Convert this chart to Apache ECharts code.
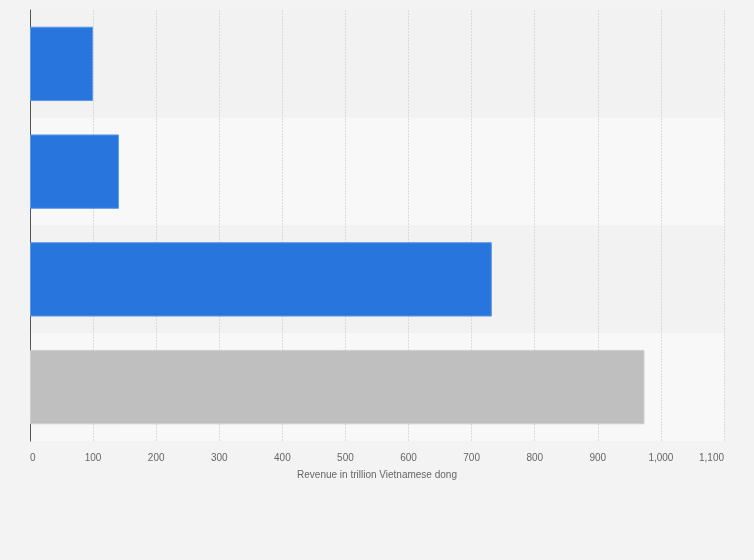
<!DOCTYPE html>
<html lang="en">
<head>
	<meta charset="UTF-8">
	<title>Revenue in trillion Vietnamese dong</title>
	<script src="https://cdn.jsdelivr.net/npm/echarts@6/dist/echarts.min.js"></script>
	<style type="text/css">
		html, body { margin: 0; padding: 0; background: #f3f3f3; }
		#main { width: 754px; height: 560px; }
	</style>
</head>
<body>
	<div id="main"></div>
	<script type="text/javascript">
		// data (category labels are not shown in it)
		var categories = ['Bar 1', 'Bar 2', 'Bar 3', 'Bar 4'];
		var revenue = [100, 141, 732, 974];
		var greyIndex = 3;

		var xMin = 0;
		var xMax = 1100;
		var xStep = 100;

		var seriesData = revenue.map(function (v, i) {
			var grey = i === greyIndex;
			return {
				value: v,
				itemStyle: {
					color: grey ? '#bfbfbf' : '#2876dd',
					borderColor: grey ? '#cfcfcf' : '#5c98e6',
					borderWidth: 1
				}
			};
		});

		var chart = echarts.init(document.getElementById('main'));

		var option = {
			backgroundColor: '#f3f3f3',
			animation: false,
			grid: {
				left: 30,
				right: 30,
				top: 10,
				bottom: 119
			},
			xAxis: {
				type: 'value',
				min: xMin,
				max: xMax,
				interval: xStep,
				name: 'Revenue in trillion Vietnamese dong',
				nameLocation: 'middle',
				nameGap: 29,
				nameTextStyle: { color: '#666', fontSize: 10, fontFamily: 'Liberation Sans, Arial, sans-serif' },
				axisLine: { show: false },
				axisTick: { show: false },
				axisLabel: {
					color: '#666',
					fontSize: 10,
					margin: 12,
					fontFamily: 'Liberation Sans, Arial, sans-serif',
					alignMinLabel: 'left',
					alignMaxLabel: 'right',
					formatter: function (v) {
						return v.toLocaleString('en-US');
					}
				},
				splitLine: {
					show: true,
					lineStyle: { color: '#dadada', type: [2, 1], width: 1 }
				}
			},
			yAxis: {
				type: 'category',
				data: categories,
				inverse: true,
				axisLine: { show: true, lineStyle: { color: '#555', width: 1 } },
				axisTick: { show: false },
				axisLabel: { show: false },
				splitArea: {
					show: true,
					areaStyle: { color: ['#f2f2f2', '#f8f8f8'] }
				}
			},
			series: [
				{
					type: 'bar',
					data: seriesData,
					barCategoryGap: '31%'
				}
			]
		};

		chart.setOption(option);
	</script>
</body>
</html>
